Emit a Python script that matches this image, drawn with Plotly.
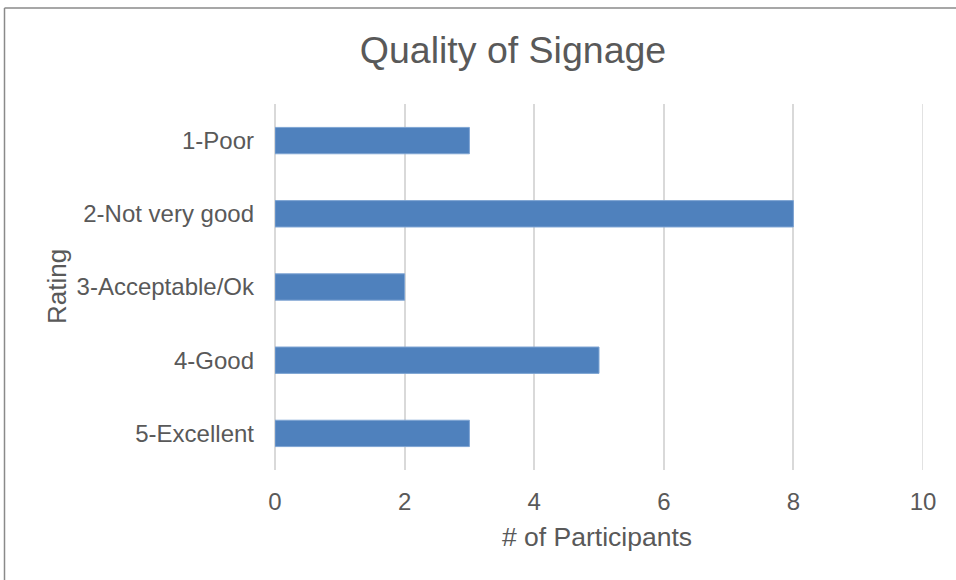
import plotly.graph_objects as go

# Survey ratings and how many participants chose each
ratings = ["1-Poor", "2-Not very good", "3-Acceptable/Ok", "4-Good", "5-Excellent"]
participants = [3, 8, 2, 5, 3]
x_ticks = [0, 2, 4, 6, 8, 10]

W, H = 956, 580
L, R, T, B = 275, 923, 104, 470  # plot area in pixels


def px_x(p):
    return (p - L) / (R - L)


def px_y(p):
    return (B - p) / (B - T)


TEXT = "#595959"
GRID = "#d9d9d9"
FONT = "Liberation Sans, Arial, sans-serif"

fig = go.Figure(
    go.Bar(
        x=participants,
        y=ratings,
        orientation="h",
        width=0.36,
        marker=dict(color="#4f81bd", line=dict(color="#7ea4d3", width=1)),
    )
)

# gridline at the far end of the value axis
shapes = [
    dict(
        type="line",
        xref="x",
        yref="paper",
        x0=x_ticks[-1],
        x1=x_ticks[-1],
        y0=0,
        y1=1,
        line=dict(color=GRID, width=1.5),
        layer="below",
    ),
    # chart frame (left and top edges)
    dict(
        type="line",
        xref="paper",
        yref="paper",
        x0=px_x(4.5),
        x1=px_x(4.5),
        y0=px_y(600),
        y1=px_y(8),
        line=dict(color="#8a8a8a", width=1.5),
    ),
    dict(
        type="line",
        xref="paper",
        yref="paper",
        x0=px_x(4.5),
        x1=px_x(1000),
        y0=px_y(8),
        y1=px_y(8),
        line=dict(color="#8a8a8a", width=1.5),
    ),
]

fig.update_layout(
    width=W,
    height=H,
    margin=dict(l=L, r=W - R, t=T, b=H - B, pad=0),
    paper_bgcolor="white",
    plot_bgcolor="white",
    showlegend=False,
    font=dict(family=FONT, color=TEXT, size=20),
    title=dict(
        text="Quality of Signage",
        x=513 / W,
        y=1 - 50 / H,
        xanchor="center",
        yanchor="middle",
        font=dict(size=37.5, color=TEXT, family=FONT),
    ),
    xaxis=dict(
        range=[0, 10],
        tickvals=x_ticks,
        ticktext=[str(v) for v in x_ticks],
        showgrid=True,
        gridcolor=GRID,
        gridwidth=1.5,
        zeroline=True,
        zerolinecolor=GRID,
        zerolinewidth=1.5,
        showline=False,
        ticks="",
        ticklabelstandoff=15,
        tickfont=dict(size=24, color=TEXT, family=FONT),
        fixedrange=True,
    ),
    yaxis=dict(
        categoryorder="array",
        categoryarray=ratings,
        autorange="reversed",
        showgrid=False,
        showline=False,
        ticks="",
        ticklabelstandoff=20,
        tickfont=dict(size=24, color=TEXT, family=FONT),
        fixedrange=True,
    ),
    annotations=[
        dict(
            text="# of Participants",
            x=px_x(597),
            y=px_y(537),
            xref="paper",
            yref="paper",
            xanchor="center",
            yanchor="middle",
            showarrow=False,
            font=dict(size=26.5, color=TEXT, family=FONT),
        ),
        dict(
            text="Rating",
            x=px_x(57),
            y=px_y(287),
            xref="paper",
            yref="paper",
            xanchor="center",
            yanchor="middle",
            textangle=-90,
            showarrow=False,
            font=dict(size=26, color=TEXT, family=FONT),
        ),
    ],
    shapes=shapes,
)

fig.write_html("out.html")
